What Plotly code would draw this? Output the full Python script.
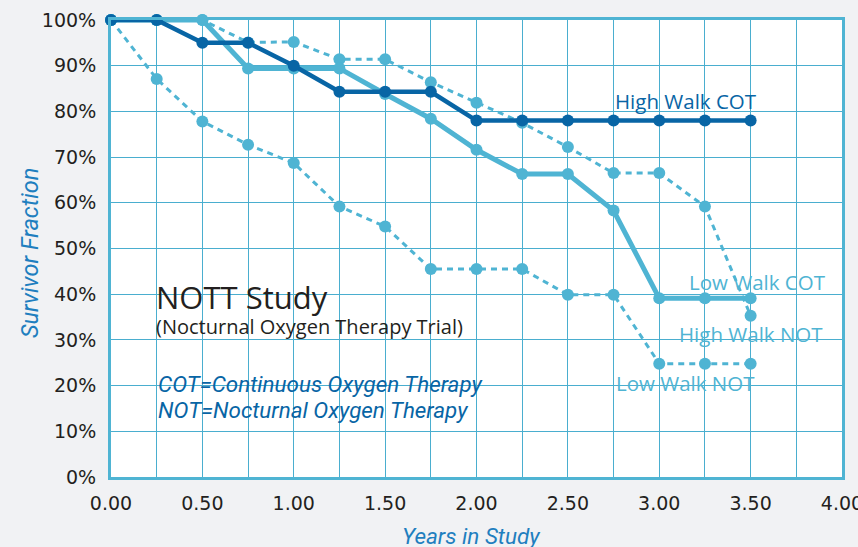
import plotly.graph_objects as go

years = [0.0, 0.25, 0.5, 0.75, 1.0, 1.25, 1.5, 1.75, 2.0, 2.25, 2.5, 2.75, 3.0, 3.25, 3.5]
high_walk_cot = [100, 100, 95, 95, 90, 84.3, 84.3, 84.3, 78, 78, 78, 78, 78, 78, 78]
low_walk_cot = [100, 100, 100, 89.4, 89.4, 89.4, 83.8, 78.4, 71.6, 66.3, 66.3, 58.3, 39.1, 39.1, 39.1]
high_walk_not = [100, 100, 100, 95.1, 95.2, 91.4, 91.4, 86.4, 81.9, 77.5, 72.2, 66.5, 66.5, 59.2, 35.3]
low_walk_not = [100, 87.1, 77.8, 72.7, 68.7, 59.2, 54.8, 45.5, 45.5, 45.5, 39.9, 39.9, 24.8, 24.8, 24.8]

x_ticks = [0, 0.5, 1.0, 1.5, 2.0, 2.5, 3.0, 3.5, 4.0]
x_tick_labels = ["0.00", "0.50", "1.00", "1.50", "2.00", "2.50", "3.00", "3.50", "4.00"]
y_ticks = [0, 10, 20, 30, 40, 50, 60, 70, 80, 90, 100]
y_tick_labels = [f"{v}%" for v in y_ticks]

DARK = "#0865a5"
LIGHT = "#4fb4d3"
GRID = "#4aaecf"
TITLE = "#1f7fbf"
INK = "#231f20"
BG = "#f1f2f4"

fig = go.Figure()
fig.add_trace(go.Scatter(x=years, y=low_walk_not, mode="lines+markers",
                         line=dict(color=LIGHT, width=3, dash="6px,5px"),
                         marker=dict(color=LIGHT, size=12), cliponaxis=False))
fig.add_trace(go.Scatter(x=years, y=high_walk_not, mode="lines+markers",
                         line=dict(color=LIGHT, width=3, dash="6px,5px"),
                         marker=dict(color=LIGHT, size=12), cliponaxis=False))
fig.add_trace(go.Scatter(x=years, y=low_walk_cot, mode="lines+markers",
                         line=dict(color=LIGHT, width=5),
                         marker=dict(color=LIGHT, size=12), cliponaxis=False))
fig.add_trace(go.Scatter(x=years, y=high_walk_cot, mode="lines+markers",
                         line=dict(color=DARK, width=4.5),
                         marker=dict(color=DARK, size=12), cliponaxis=False))

ann = [
    dict(x=3.146, y=82.3, text="High Walk COT", color=DARK),
    dict(x=3.535, y=42.7, text="Low Walk COT", color=LIGHT),
    dict(x=3.50, y=31.3, text="High Walk NOT", color=LIGHT),
    dict(x=3.146, y=20.6, text="Low Walk NOT", color=LIGHT),
]
annotations = [dict(x=a["x"], y=a["y"], text=a["text"], showarrow=False, xref="x", yref="y",
                    font=dict(family="Open Sans", size=20.5, color=a["color"])) for a in ann]
annotations += [
    dict(x=0.238, y=39.3, text="NOTT Study", showarrow=False, xanchor="left",
         font=dict(family="Open Sans", size=31, color=INK)),
    dict(x=0.238, y=33.0, text="(Nocturnal Oxygen Therapy Trial)", showarrow=False, xanchor="left",
         font=dict(family="Open Sans", size=20, color=INK)),
    dict(x=0.248, y=20.4, text="<i>COT=Continuous Oxygen Therapy</i>", showarrow=False, xanchor="left",
         font=dict(family="Roboto", size=22.4, color=DARK)),
    dict(x=0.248, y=14.7, text="<i>NOT=Nocturnal Oxygen Therapy</i>", showarrow=False, xanchor="left",
         font=dict(family="Roboto", size=22.4, color=DARK)),
    dict(x=0.4925, y=-0.129, xref="paper", yref="paper", text="<i>Years in Study</i>",
         xanchor="center", yanchor="middle",
         showarrow=False, font=dict(family="Roboto", size=22.5, color=TITLE)),
    dict(x=-0.1108, y=0.49, xref="paper", yref="paper", text="<i>Survivor Fraction</i>",
         xanchor="center", yanchor="middle",
         showarrow=False, textangle=-90, font=dict(family="Roboto", size=23.5, color=TITLE)),
]

fig.update_layout(
    width=858, height=547,
    margin=dict(l=111, r=16, t=20, b=70),
    paper_bgcolor=BG,
    plot_bgcolor="white",
    showlegend=False,
    annotations=annotations,
    xaxis=dict(range=[0, 4], tickvals=x_ticks, ticktext=x_tick_labels, automargin=False,
               showgrid=True, gridcolor=GRID, gridwidth=1.3,
               minor=dict(dtick=0.25, showgrid=True, gridcolor=GRID, gridwidth=1.3),
               showline=True, linecolor=LIGHT, linewidth=3, mirror=True,
               zeroline=False, ticks="", ticklabelstandoff=7, ticklabeloverflow="allow",
               tickfont=dict(family="DejaVu Sans", size=19, color=INK)),
    yaxis=dict(range=[0, 100], tickvals=y_ticks, ticktext=y_tick_labels, automargin=False,
               showgrid=True, gridcolor=GRID, gridwidth=1.3,
               showline=True, linecolor=LIGHT, linewidth=3, mirror=True,
               zeroline=False, ticks="", ticklabelstandoff=8, ticklabeloverflow="allow",
               tickfont=dict(family="DejaVu Sans", size=19, color=INK)),
)

fig.write_html("out.html", config={"displayModeBar": False},
               post_script="document.body.style.margin='0';document.body.style.background='%s';" % BG)
